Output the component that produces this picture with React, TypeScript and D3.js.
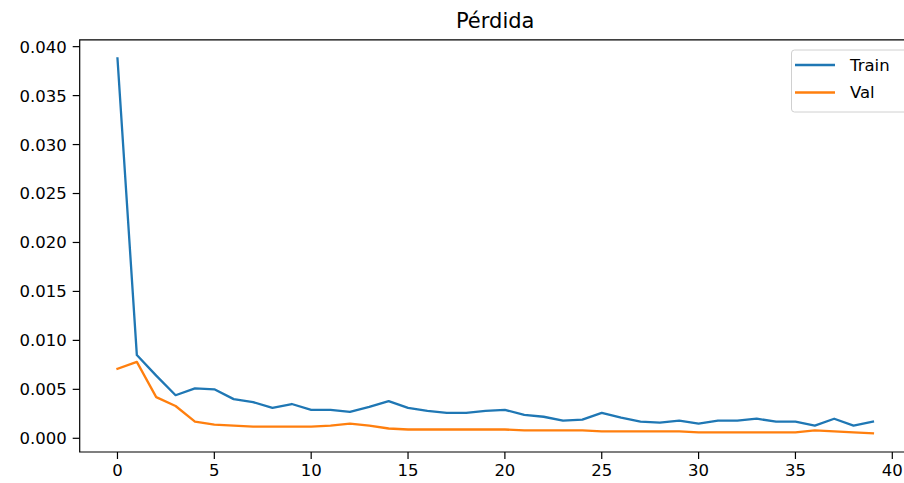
import React, { useEffect } from "react";
import * as d3 from "d3";

const epochs: number[] = Array.from({ length: 40 }, (_, i) => i);
const trainLoss: number[] = [
  0.0388, 0.0085, 0.0064, 0.0044, 0.0051, 0.005, 0.004, 0.0037, 0.0031, 0.0035,
  0.0029, 0.0029, 0.0027, 0.0032, 0.0038, 0.0031, 0.0028, 0.0026, 0.0026, 0.0028,
  0.0029, 0.0024, 0.0022, 0.0018, 0.0019, 0.0026, 0.0021, 0.0017, 0.0016, 0.0018,
  0.0015, 0.0018, 0.0018, 0.002, 0.0017, 0.0017, 0.0013, 0.002, 0.0013, 0.0017,
];
const valLoss: number[] = [
  0.0071, 0.0078, 0.0042, 0.0033, 0.0017, 0.0014, 0.0013, 0.0012, 0.0012, 0.0012,
  0.0012, 0.0013, 0.0015, 0.0013, 0.001, 0.0009, 0.0009, 0.0009, 0.0009, 0.0009,
  0.0009, 0.0008, 0.0008, 0.0008, 0.0008, 0.0007, 0.0007, 0.0007, 0.0007, 0.0007,
  0.0006, 0.0006, 0.0006, 0.0006, 0.0006, 0.0006, 0.0008, 0.0007, 0.0006, 0.0005,
];
const xTicks: number[] = [0, 5, 10, 15, 20, 25, 30, 35, 40];
const yTicks: number[] = [0, 0.005, 0.01, 0.015, 0.02, 0.025, 0.03, 0.035, 0.04];
const seriesNames: string[] = ["Train", "Val"];
const seriesColors: string[] = ["#1f77b4", "#ff7f0e"];
const title = "Pérdida";

const W = 904;
const H = 483;
const L = 79.7;
const R = 910.7;
const T = 39.8;
const B = 452;
const FONT = "'DejaVu Sans', sans-serif";

export default function App() {
  useEffect(() => {
    document.body.style.margin = "0";
  }, []);

  const x = d3.scaleLinear().domain([-1.95, 40.95]).range([L, R]);
  const y = d3.scaleLinear().domain([-0.0014, 0.0407]).range([B, T]);
  const line = d3
    .line<number>()
    .x((_, i) => x(epochs[i]))
    .y((d) => y(d));
  const series = [trainLoss, valLoss];

  return (
    <svg width={W} height={H} style={{ display: "block", background: "#fff" }} fontFamily={FONT}>
      <defs>
        <clipPath id="plot">
          <rect x={L} y={T} width={R - L} height={B - T} />
        </clipPath>
      </defs>
      <rect x={0} y={0} width={W} height={H} fill="#fff" />
      <text x={(L + R) / 2} y={28} textAnchor="middle" fontSize={21} fill="#000">
        {title}
      </text>
      <g clipPath="url(#plot)">
        {series.map((s, k) => (
          <path
            key={k}
            d={line(s) || ""}
            fill="none"
            stroke={seriesColors[k]}
            strokeWidth={2.3}
            strokeLinejoin="round"
            strokeLinecap="square"
          />
        ))}
      </g>
      {/* spines */}
      <path d={`M${L},${B}V${T}H${R}V${B}Z`} fill="none" stroke="#000" strokeWidth={1.2} />
      {/* y ticks */}
      {yTicks.map((t) => (
        <g key={t}>
          <line x1={L - 7} x2={L} y1={y(t)} y2={y(t)} stroke="#000" strokeWidth={1.2} />
          <text x={L - 13} y={y(t)} dy="0.36em" textAnchor="end" fontSize={16.5} fill="#000">
            {d3.format(".3f")(t)}
          </text>
        </g>
      ))}
      {/* x ticks */}
      {xTicks.map((t) => (
        <g key={t}>
          <line x1={x(t)} x2={x(t)} y1={B} y2={B + 7} stroke="#000" strokeWidth={1.2} />
          <text x={x(t)} y={476} textAnchor="middle" fontSize={16.5} fill="#000">
            {t}
          </text>
        </g>
      ))}
      {/* legend */}
      <g>
        <rect
          x={791.5}
          y={50}
          width={118}
          height={62}
          rx={3}
          fill="#fff"
          fillOpacity={0.8}
          stroke="#d0d0d0"
          strokeWidth={1}
        />
        {seriesNames.map((n, k) => (
          <g key={n}>
            <line
              x1={795}
              x2={835}
              y1={65 + k * 27.5}
              y2={65 + k * 27.5}
              stroke={seriesColors[k]}
              strokeWidth={2.3}
            />
            <text x={850} y={65 + k * 27.5} dy="0.36em" fontSize={16.5} fill="#000">
              {n}
            </text>
          </g>
        ))}
      </g>
    </svg>
  );
}
